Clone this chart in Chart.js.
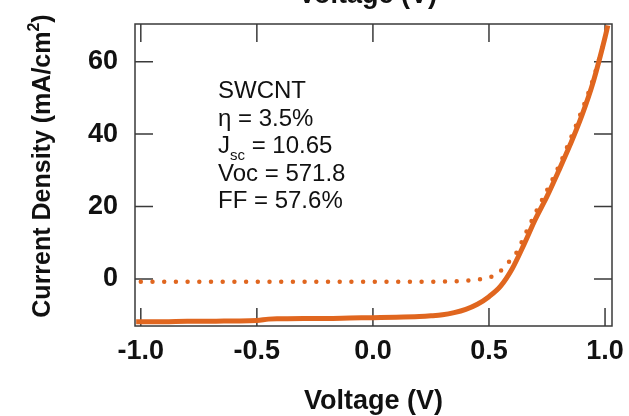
<!DOCTYPE html>
<html>
<head>
<meta charset="utf-8">
<script src="https://cdn.jsdelivr.net/npm/chart.js@4.4.1/dist/chart.umd.min.js"></script>
<style>
  html, body { margin: 0; padding: 0; background: #fff; }
</style>
</head>
<body>
<canvas id="ivChart" width="629" height="416"></canvas>
<script>
// ---------- DATA ----------
// illuminated J-V (solid line)
const lightV = [-1.02, -0.9, -0.8, -0.7, -0.6, -0.5, -0.45, -0.4, -0.3, -0.2, -0.1, 0.0, 0.1, 0.2, 0.25, 0.3, 0.35, 0.4, 0.45, 0.5, 0.55, 0.6, 0.65, 0.7, 0.75, 0.8, 0.85, 0.9, 0.95, 1.0, 1.012];
const lightJ = [-11.8, -11.8, -11.7, -11.7, -11.6, -11.5, -11.1, -11.0, -10.9, -10.9, -10.8, -10.7, -10.6, -10.4, -10.2, -9.9, -9.3, -8.4, -7.0, -4.9, -2.0, 2.8, 9.4, 16.5, 22.8, 29.8, 37.1, 45.1, 54.6, 66.7, 70.0];
// dark J-V (dotted line)
const darkV = [-1.0, -0.8, -0.6, -0.4, -0.2, 0.0, 0.2, 0.3, 0.4, 0.45, 0.49, 0.54, 0.58, 0.62, 0.65, 0.7, 0.75, 0.8, 0.85, 0.9, 0.95, 1.0];
const darkJ = [-0.8, -0.8, -0.8, -0.8, -0.8, -0.8, -0.8, -0.7, -0.5, -0.2, 0.2, 1.6, 4.3, 7.4, 11.5, 18.2, 24.5, 31.0, 38.5, 46.5, 55.5, 66.5];

const xTicks = [-1, -0.5, 0, 0.5, 1];
const yTicks = [0, 20, 40, 60];

const xTitle = "Voltage (V)";
const yTitle = ["Current Density (mA/cm", "2", ")"];
// [main, subscript, rest]
const infoLines = [
  ["SWCNT", "", ""],
  ["\u03B7 = 3.5%", "", ""],
  ["J", "sc", " = 10.65"],
  ["Voc = 571.8", "", ""],
  ["FF = 57.6%", "", ""],
];

const orange = "#E0661F";
const axisColor = "#3a3a3a";
const textColor = "#111";
const fontFam = "'Liberation Sans', Arial, sans-serif";

// ---------- PLUGINS ----------
// box frame with inward ticks on all four sides
const frameTicks = {
  id: "frameTicks",
  beforeDatasetsDraw(chart) {
    const { ctx, chartArea: a, scales: { x, y } } = chart;
    const len = 18;
    ctx.save();
    ctx.strokeStyle = axisColor;
    ctx.lineWidth = 1.5;
    ctx.strokeRect(a.left, a.top, a.right - a.left, a.bottom - a.top);
    ctx.beginPath();
    xTicks.forEach(v => {
      const px = x.getPixelForValue(v);
      ctx.moveTo(px, a.bottom); ctx.lineTo(px, a.bottom - len);
      ctx.moveTo(px, a.top); ctx.lineTo(px, a.top + len);
    });
    yTicks.forEach(v => {
      const py = y.getPixelForValue(v);
      ctx.moveTo(a.left, py); ctx.lineTo(a.left + len, py);
      ctx.moveTo(a.right, py); ctx.lineTo(a.right - len, py);
    });
    ctx.stroke();
    ctx.restore();
  }
};

// titles and the parameter block
const labels = {
  id: "labels",
  afterDraw(chart) {
    const { ctx, chartArea: a } = chart;
    const cx = (a.left + a.right) / 2;
    ctx.save();
    ctx.fillStyle = textColor;
    ctx.textAlign = "center";
    ctx.textBaseline = "alphabetic";
    ctx.font = "bold 27px " + fontFam;
    // x title of the panel above, cut by the top edge
    ctx.fillText(xTitle, cx - 6, 3);
    // x title
    ctx.fillText(xTitle, cx, 409);

    // y title, rotated
    ctx.save();
    ctx.translate(50, 166);
    ctx.rotate(-Math.PI / 2);
    ctx.textAlign = "left";
    ctx.font = "bold 25px " + fontFam;
    const w0 = ctx.measureText(yTitle[0]).width;
    ctx.font = "bold 16px " + fontFam;
    const w1 = ctx.measureText(yTitle[1]).width;
    ctx.font = "bold 25px " + fontFam;
    const w2 = ctx.measureText(yTitle[2]).width;
    let sx = -(w0 + w1 + w2) / 2;
    ctx.fillText(yTitle[0], sx, 0);
    ctx.font = "bold 16px " + fontFam;
    ctx.fillText(yTitle[1], sx + w0, -11);
    ctx.font = "bold 25px " + fontFam;
    ctx.fillText(yTitle[2], sx + w0 + w1, 0);
    ctx.restore();

    // parameter block
    ctx.textAlign = "left";
    const x0 = 218;
    let base = 98;
    infoLines.forEach(([main, sub, rest]) => {
      ctx.font = "24px " + fontFam;
      ctx.fillText(main, x0, base);
      let xx = x0 + ctx.measureText(main).width;
      if (sub) {
        ctx.font = "15px " + fontFam;
        ctx.fillText(sub, xx, base + 7);
        xx += ctx.measureText(sub).width;
        ctx.font = "24px " + fontFam;
        ctx.fillText(rest, xx, base);
      }
      base += 27.5;
    });
    ctx.restore();
  }
};

// ---------- CHART ----------
const ctx = document.getElementById("ivChart").getContext("2d");

new Chart(ctx, {
  type: "line",
  data: {
    datasets: [
      {
        label: "Dark",
        data: darkV.map((v, i) => ({ x: v, y: darkJ[i] })),
        borderColor: orange,
        borderWidth: 4.5,
        borderDash: [0, 11.7],
        borderCapStyle: "round",
        pointRadius: 0,
        fill: false,
        cubicInterpolationMode: "monotone",
      },
      {
        label: "Light",
        data: lightV.map((v, i) => ({ x: v, y: lightJ[i] })),
        borderColor: orange,
        borderWidth: 5,
        borderJoinStyle: "round",
        pointRadius: 0,
        fill: false,
        cubicInterpolationMode: "monotone",
      },
    ],
  },
  options: {
    responsive: false,
    animation: false,
    layout: { padding: { top: 24, right: 17, left: 0, bottom: 0 } },
    plugins: {
      legend: { display: false },
      tooltip: { enabled: false },
    },
    scales: {
      x: {
        type: "linear",
        min: -1.025,
        max: 1.03,
        grid: { display: false, drawTicks: false },
        border: { display: false },
        afterBuildTicks: s => { s.ticks = xTicks.map(v => ({ value: v })); },
        afterFit: s => { s.height = 90; s.paddingLeft = 0; s.paddingRight = 0; },
        ticks: {
          padding: 9,
          color: textColor,
          font: { family: fontFam, size: 27, weight: "bold" },
          callback: v => Number(v).toFixed(1),
        },
      },
      y: {
        min: -13,
        max: 70.4,
        grid: { display: false, drawTicks: false },
        border: { display: false },
        afterBuildTicks: s => { s.ticks = yTicks.map(v => ({ value: v })); },
        afterFit: s => { s.width = 135; s.paddingTop = 0; s.paddingBottom = 0; },
        ticks: {
          padding: 17,
          color: textColor,
          font: { family: fontFam, size: 27, weight: "bold" },
          callback: v => String(v),
        },
      },
    },
  },
  plugins: [frameTicks, labels],
});
</script>
</body>
</html>
